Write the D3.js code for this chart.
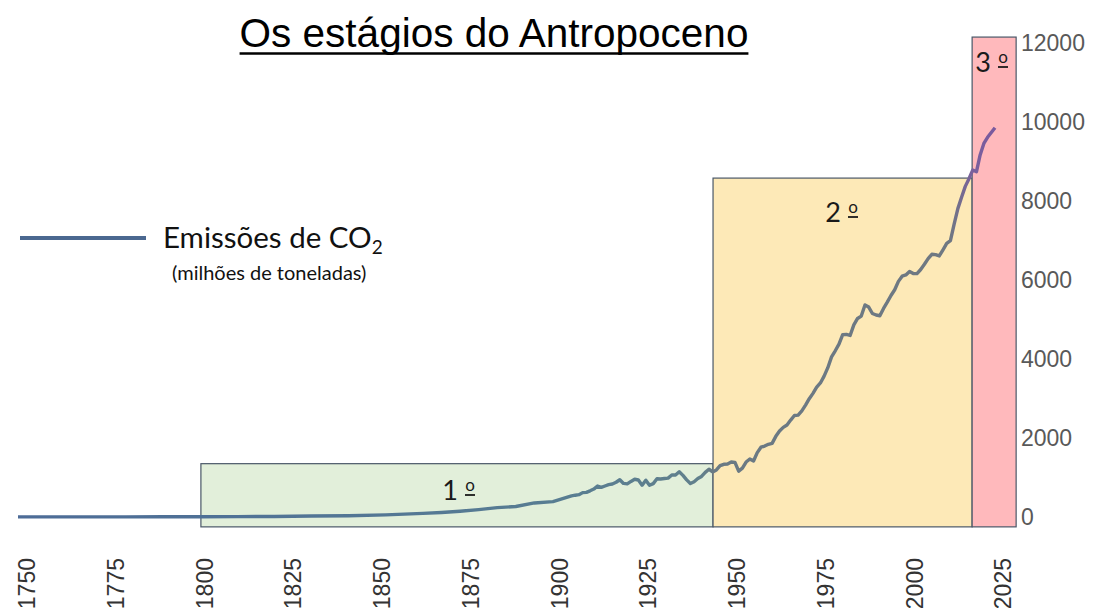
<!DOCTYPE html>
<html lang="pt">
<head>
  <meta charset="UTF-8">
  <title>Os estágios do Antropoceno</title>
  <script src="https://d3js.org/d3.v7.min.js"></script>
  <style>
    body { margin: 0; background: #fff; }
    svg { display: block; }
    .title { font-family: "Liberation Sans", Arial, sans-serif; font-size: 40.5px; fill: #000; }
    .ytick { font-family: "Liberation Sans", Arial, sans-serif; font-size: 23px; fill: #595959; }
    .xtick { font-family: "Liberation Sans", Arial, sans-serif; font-size: 23px; fill: #333; }
    .stage { font-family: Lato, "Open Sans", sans-serif; font-size: 27px; fill: #1a1a1a; }
    .ord { font-family: Lato, "Open Sans", sans-serif; font-size: 17px; fill: #1a1a1a; }
    .legend { font-family: Lato, "Open Sans", sans-serif; fill: #111; }
  </style>
</head>
<body>
  <svg width="1096" height="610"></svg>

  <script>
    const width = 1096;
    const height = 610;

    // anos e emissões (milhões de toneladas de carbono)
    const years = [1751, 1760, 1770, 1780, 1790, 1800, 1810, 1820, 1830, 1840, 1850, 1855, 1860, 1865, 1870, 1875, 1880, 1885, 1890, 1895,
      1900, 1901, 1902, 1903, 1904, 1905, 1906, 1907, 1908, 1909, 1910, 1911, 1912, 1913, 1914, 1915, 1916, 1917, 1918, 1919,
      1920, 1921, 1922, 1923, 1924, 1925, 1926, 1927, 1928, 1929, 1930, 1931, 1932, 1933, 1934, 1935, 1936, 1937, 1938, 1939,
      1940, 1941, 1942, 1943, 1944, 1945, 1946, 1947, 1948, 1949, 1950, 1951, 1952, 1953, 1954, 1955, 1956, 1957, 1958, 1959,
      1960, 1961, 1962, 1963, 1964, 1965, 1966, 1967, 1968, 1969, 1970, 1971, 1972, 1973, 1974, 1975, 1976, 1977, 1978, 1979,
      1980, 1981, 1982, 1983, 1984, 1985, 1986, 1987, 1988, 1989, 1990, 1991, 1992, 1993, 1994, 1995, 1996, 1997, 1998, 1999,
      2000, 2001, 2002, 2003, 2004, 2005, 2006, 2007, 2008, 2009, 2010, 2011, 2012, 2013, 2014];
    const emissions = [3, 3, 3, 4, 5, 8, 10, 14, 24, 33, 54, 72, 91, 115, 147, 188, 236, 266, 356, 390,
      534, 552, 566, 617, 624, 663, 707, 784, 750, 785, 819, 836, 879, 943, 850, 838, 901, 955, 936, 806,
      932, 803, 845, 970, 963, 975, 983, 1062, 1065, 1145, 1053, 940, 847, 893, 973, 1027, 1130, 1209, 1142, 1192,
      1299, 1334, 1342, 1391, 1383, 1160, 1238, 1392, 1469, 1419, 1630, 1767, 1795, 1841, 1865, 2042, 2177, 2270, 2330, 2454,
      2569, 2580, 2686, 2833, 2995, 3130, 3288, 3393, 3566, 3780, 4053, 4208, 4376, 4614, 4623, 4596, 4864, 5026, 5087, 5369,
      5315, 5152, 5113, 5094, 5280, 5439, 5607, 5752, 5965, 6097, 6127, 6217, 6164, 6162, 6266, 6398, 6542, 6651, 6643, 6610,
      6765, 6927, 6996, 7416, 7807, 8093, 8370, 8566, 8783, 8740, 9167, 9458, 9612, 9735, 9855];

    // estágios: início, fim, altura da caixa
    const stageNumbers = ["1", "2", "3"];
    const stageStart = [1799, 1943.3, 2016.3];
    const stageEnd = [1943.3, 2016.3, 2028.7];
    const stageTop = [1350, 8580, 12150];
    const stageColors = ["#e2efda", "#fde9b7", "#ffb9bc"];
    const stageBottom = -250;

    const xTickLabels = [1750, 1775, 1800, 1825, 1850, 1875, 1900, 1925, 1950, 1975, 2000, 2025];
    const yTickLabels = [0, 2000, 4000, 6000, 8000, 10000, 12000];

    const svg = d3.select("svg")
        .attr("width", width)
        .attr("height", height);

    // escalas
    const x = d3.scaleLinear().domain([1750, 2025]).range([27, 1003]);
    const xLine = d3.scaleLinear().domain([1751, 2014]).range([18, 995]);
    const y = d3.scaleLinear().domain([0, 12000]).range([517, 43]);

    // caixas dos estágios
    svg.selectAll("rect.stage-box")
        .data(stageNumbers)
        .enter().append("rect")
        .attr("class", "stage-box")
        .attr("x", (d, i) => x(stageStart[i]))
        .attr("y", (d, i) => y(stageTop[i]))
        .attr("width", (d, i) => x(stageEnd[i]) - x(stageStart[i]))
        .attr("height", (d, i) => y(stageBottom) - y(stageTop[i]))
        .attr("fill", (d, i) => stageColors[i])
        .attr("stroke", "#4a5868")
        .attr("stroke-width", 1.2);

    // cor da linha muda ao atravessar as caixas
    const grad = svg.append("defs").append("linearGradient")
        .attr("id", "lineGrad")
        .attr("gradientUnits", "userSpaceOnUse")
        .attr("x1", xLine(1751)).attr("x2", xLine(2014))
        .attr("y1", 0).attr("y2", 0);
    const gx = d => (x(d) - xLine(1751)) / (xLine(2014) - xLine(1751));
    [
      [0, "#4d6c97"],
      [gx(1800), "#4f7196"],
      [gx(1900), "#587d92"],
      [gx(1940), "#61808c"],
      [gx(1943.3), "#6a7a84"],
      [gx(2010), "#6f7882"],
      [gx(2016.3), "#7a609c"],
      [1, "#7a5a9e"]
    ].forEach(s => grad.append("stop").attr("offset", s[0]).attr("stop-color", s[1]));

    // linha de emissões
    const points = years.map((yr, i) => [yr, emissions[i]]);
    const line = d3.line()
        .x(d => xLine(d[0]))
        .y(d => y(d[1]));

    svg.append("path")
        .datum(points)
        .attr("d", line)
        .attr("fill", "none")
        .attr("stroke", "url(#lineGrad)")
        .attr("stroke-width", 3.4)
        .attr("stroke-linejoin", "round");

    // rótulos dos estágios ("1 º" com o ordinal sublinhado)
    const stageLabelX = [450, 833, 983];
    const stageLabelY = [500, 222, 72];
    stageNumbers.forEach((d, i) => {
      const g = svg.append("g")
          .attr("transform", `translate(${stageLabelX[i]},${stageLabelY[i]})`);
      g.append("text")
          .attr("class", "stage")
          .attr("text-anchor", "middle")
          .text(d);
      g.append("text")
          .attr("class", "ord")
          .attr("x", 20)
          .attr("y", -9)
          .attr("text-anchor", "middle")
          .text("o");
      g.append("line")
          .attr("x1", 15).attr("x2", 25)
          .attr("y1", -5).attr("y2", -5)
          .attr("stroke", "#1a1a1a")
          .attr("stroke-width", 1.8);
    });

    // eixo y à direita
    svg.selectAll("text.ytick")
        .data(yTickLabels)
        .enter().append("text")
        .attr("class", "ytick")
        .attr("x", 1021)
        .attr("y", d => y(d))
        .attr("dy", "0.36em")
        .text(d => d);

    // eixo x (rótulos verticais)
    svg.selectAll("text.xtick")
        .data(xTickLabels)
        .enter().append("text")
        .attr("class", "xtick")
        .attr("transform", d => `translate(${x(d)},558) rotate(-90)`)
        .attr("text-anchor", "end")
        .attr("dy", "0.36em")
        .text(d => d);

    // título
    const title = svg.append("text")
        .attr("class", "title")
        .attr("x", 494)
        .attr("y", 47)
        .attr("text-anchor", "middle")
        .text("Os estágios do Antropoceno");
    const tb = title.node().getBBox();
    svg.append("line")
        .attr("x1", tb.x).attr("x2", tb.x + tb.width)
        .attr("y1", 53.5).attr("y2", 53.5)
        .attr("stroke", "#000")
        .attr("stroke-width", 2.5);

    // legenda
    svg.append("line")
        .attr("x1", 20).attr("x2", 146)
        .attr("y1", 238).attr("y2", 238)
        .attr("stroke", "#4b6890")
        .attr("stroke-width", 4);

    const leg = svg.append("text")
        .attr("class", "legend")
        .attr("x", 163)
        .attr("y", 248)
        .style("font-size", "29.5px");
    leg.append("tspan").text("Emissões de CO");
    leg.append("tspan")
        .attr("dy", 6)
        .style("font-size", "19px")
        .text("2");

    svg.append("text")
        .attr("class", "legend")
        .attr("x", 172)
        .attr("y", 280)
        .style("font-size", "20px")
        .text("(milhões de toneladas)");
  </script>
</body>
</html>
